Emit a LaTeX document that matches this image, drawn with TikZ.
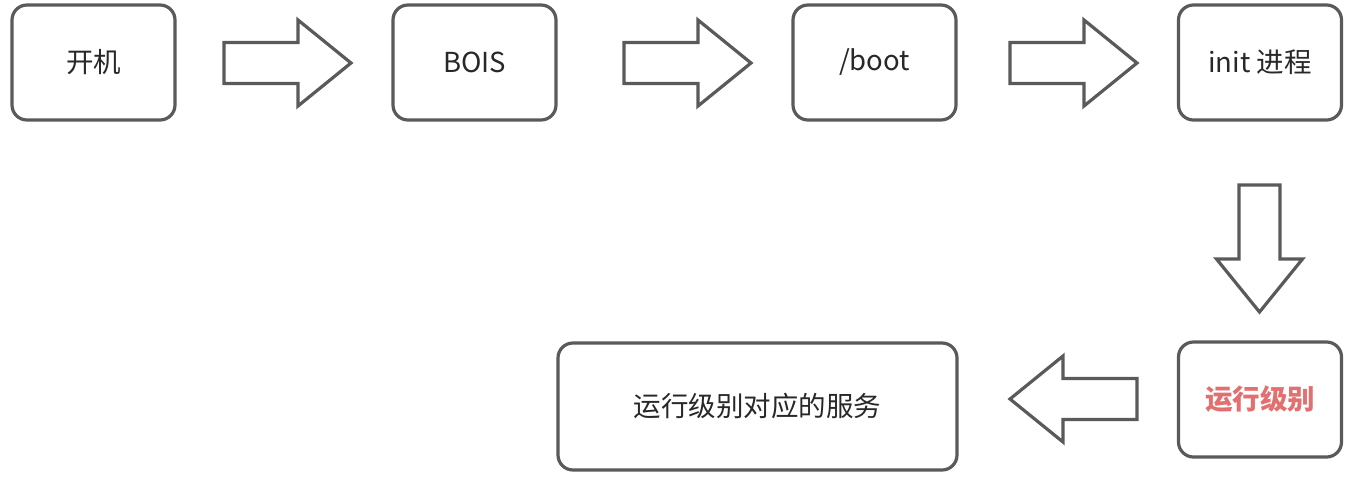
\documentclass[tikz,border=0pt]{standalone}
\usepackage{fontspec}
\setmainfont{Noto Sans CJK SC}
\usepackage{tikz}

\definecolor{edgegray}{RGB}{90,90,90}
\definecolor{textgray}{RGB}{40,40,40}
\definecolor{levelred}{RGB}{226,112,112}

\tikzset{
    stage/.style={draw=edgegray, line width=3.2pt, rounded corners=15pt, fill=white,
        minimum width=163pt, minimum height=115pt, inner sep=0pt,
        text=textgray, font=\fontsize{27.5}{32}\selectfont},
    arrowline/.style={draw=edgegray, line width=3.2pt, line join=miter, fill=white},
    blockarrow/.pic={
        \draw[arrowline] (0,-20.5) -- (74,-20.5) -- (74,-43) -- (127,0) -- (74,43) -- (74,20.5) -- (0,20.5) -- cycle;
    }
}

\begin{document}
\begin{tikzpicture}[x=1pt,y=-1pt]
    \useasboundingbox (0,0) rectangle (1354,477);

    % top row
    \node[stage] (kaiji) at (93.5,62.5) {开机};
    \node[stage] (bois) at (474.5,62.5) {BOIS};
    \node[stage] (boot) at (874.5,62.5) {/boot};
    \node[stage] (init) at (1260,62.5) {init 进程};

    % bottom row
    \node[stage, text=levelred, font=\fontsize{27.5}{32}\selectfont\bfseries] (level) at (1260,399.5) {运行级别};
    \node[stage, minimum width=399pt, minimum height=127pt] (service) at (757.5,406.5) {运行级别对应的服务};

    % block arrows
    \pic at (224,63) {blockarrow};
    \pic at (624,63) {blockarrow};
    \pic at (1010,63) {blockarrow};
    \pic[rotate=-90] at (1259.5,185) {blockarrow};
    \pic[rotate=180] at (1137,399) {blockarrow};

\end{tikzpicture}
\end{document}
